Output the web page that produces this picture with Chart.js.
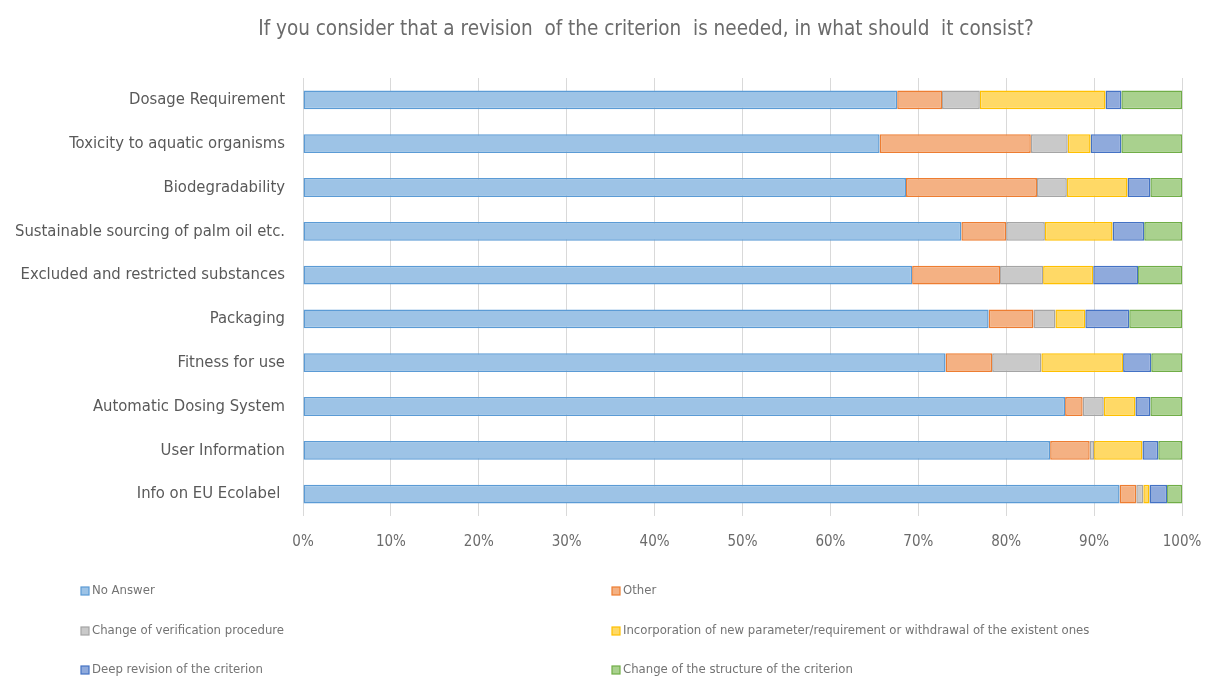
<!DOCTYPE html>
<html>
<head>
<meta charset="utf-8">
<script src="https://cdn.jsdelivr.net/npm/chart.js@4/dist/chart.umd.min.js"></script>
<style>
  html, body { margin: 0; padding: 0; background: #fff; }
  #wrap { position: relative; width: 1208px; height: 679px; }
</style>
</head>
<body>
<div id="wrap"><canvas id="chart_revisionCriterion"></canvas></div>
<script>
var FONT = "'Liberation Sans Narrow', 'DejaVu Sans Condensed', 'Liberation Sans', sans-serif";

var chartTitle = 'If you consider that a revision  of the criterion  is needed, in what should  it consist?';

var categories = [
  'Dosage Requirement',
  'Toxicity to aquatic organisms',
  'Biodegradability',
  'Sustainable sourcing of palm oil etc.',
  'Excluded and restricted substances',
  'Packaging',
  'Fitness for use',
  'Automatic Dosing System',
  'User Information',
  'Info on EU Ecolabel '
];

var seriesNames = [
  'No Answer',
  'Other',
  'Change of verification procedure',
  'Incorporation of new parameter/requirement or withdrawal of the existent ones',
  'Deep revision of the criterion',
  'Change of the structure of the criterion'
];

// shares in %, one array per series
var noAnswer     = [67.6, 65.6, 68.6, 74.9, 69.3, 78.0, 73.1, 86.7, 85.0, 92.9];
var other        = [ 5.1, 17.2, 14.9,  5.1, 10.0,  5.1,  5.3,  2.0,  4.5,  1.9];
var verification = [ 4.3,  4.2,  3.4,  4.4,  4.9,  2.5,  5.6,  2.4,  0.5,  0.8];
var incorporation= [14.3,  2.6,  6.9,  7.7,  5.7,  3.4,  9.3,  3.6,  5.5,  0.7];
var deepRevision = [ 1.8,  3.5,  2.6,  3.6,  5.1,  5.0,  3.2,  1.7,  1.8,  2.0];
var structure    = [ 6.9,  6.9,  3.6,  4.3,  5.0,  6.0,  3.5,  3.6,  2.7,  1.7];

var tickLabels = ['0%', '10%', '20%', '30%', '40%', '50%', '60%', '70%', '80%', '90%', '100%'];

var fills   = ['#9dc3e6', '#f4b183', '#c9c9c9', '#ffd966', '#8faadc', '#a9d18e'];
var borders = ['#5b9bd5', '#ed7d31', '#a5a5a5', '#ffc000', '#4472c4', '#70ad47'];
var seriesValues = [noAnswer, other, verification, incorporation, deepRevision, structure];

var datasets = seriesNames.map(function(name, i) {
  return {
    label: name,
    data: seriesValues[i],
    backgroundColor: fills[i],
    borderColor: borders[i],
    borderWidth: 1.5,
    borderSkipped: false,
    categoryPercentage: 1.0,
    barPercentage: 0.43
  };
});

// title is offset to the right of the canvas centre in the original
var offsetTitle = {
  id: 'offsetTitle',
  afterDraw: function(chart) {
    var ctx = chart.ctx;
    ctx.save();
    ctx.font = '20.5px ' + FONT;
    ctx.fillStyle = '#6b6b6b';
    ctx.textAlign = 'center';
    ctx.textBaseline = 'middle';
    ctx.fillText(chartTitle, 646, 30);
    ctx.restore();
  }
};

// legend drawn as a 2-column grid under the plot, like the original
var gridLegend = {
  id: 'gridLegend',
  afterDraw: function(chart) {
    var ctx = chart.ctx;
    var cols = [81, 612];
    var rows = [591, 631, 670];
    ctx.save();
    ctx.font = '13px ' + FONT;
    ctx.textBaseline = 'middle';
    chart.data.datasets.forEach(function(ds, i) {
      var x = cols[i % 2];
      var y = rows[Math.floor(i / 2)];
      ctx.fillStyle = ds.backgroundColor;
      ctx.fillRect(x, y - 4, 8, 8);
      ctx.strokeStyle = ds.borderColor;
      ctx.lineWidth = 1.2;
      ctx.strokeRect(x, y - 4, 8, 8);
      ctx.fillStyle = '#737373';
      ctx.fillText(ds.label, x + 11, y);
    });
    ctx.restore();
  }
};

var chart_revisionCriterion = new Chart(document.getElementById('chart_revisionCriterion'), {
  type: 'bar',
  data: {
    labels: categories,
    datasets: datasets
  },
  options: {
    indexAxis: 'y',
    animation: false,
    responsive: true,
    maintainAspectRatio: false,
    layout: {
      padding: { top: 78, right: 26, bottom: 130, left: 0 }
    },
    plugins: {
      legend: { display: false },
      tooltip: { enabled: false },
      title: { display: false }
    },
    scales: {
      x: {
        type: 'linear',
        stacked: true,
        min: 0,
        max: 100,
        afterFit: function(scale) {
          scale.height = 33;
          scale.paddingLeft = 0;
          scale.paddingRight = 0;
        },
        ticks: {
          stepSize: 10,
          color: '#6b6b6b',
          padding: 17,
          font: { family: FONT, size: 15 },
          callback: function(value, index) { return tickLabels[index]; }
        },
        grid: { color: '#d9d9d9', lineWidth: 1, drawTicks: false },
        border: { display: false }
      },
      y: {
        stacked: true,
        afterFit: function(scale) { scale.width = 303; },
        ticks: {
          color: '#595959',
          padding: 18,
          font: { family: FONT, size: 16.5 }
        },
        grid: { display: false, drawTicks: false },
        border: { display: false }
      }
    }
  },
  plugins: [offsetTitle, gridLegend, {
    id: 'whiteBg',
    beforeDraw: function(chart) {
      var ctx = chart.canvas.getContext('2d');
      ctx.save();
      ctx.globalCompositeOperation = 'destination-over';
      ctx.fillStyle = 'white';
      ctx.fillRect(0, 0, chart.canvas.width, chart.canvas.height);
      ctx.restore();
    }
  }]
});
</script>
</body>
</html>
